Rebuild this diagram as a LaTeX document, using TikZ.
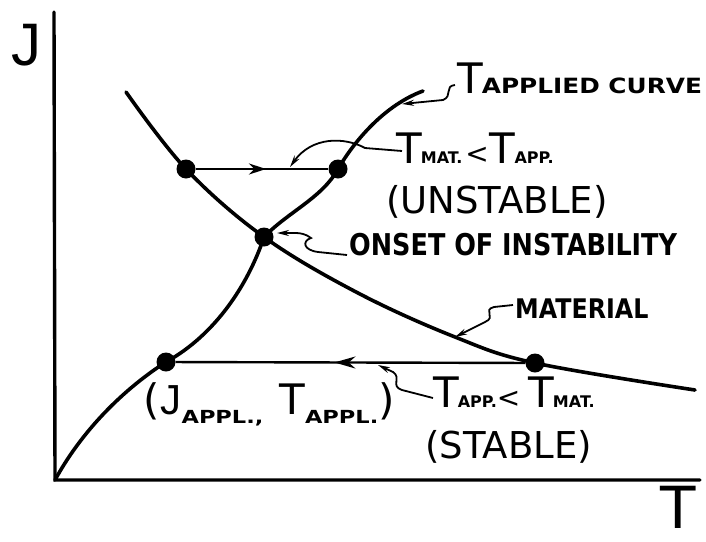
\documentclass[tikz,border=0pt]{standalone}
\usepackage{fontspec}
\setmainfont{DejaVu Sans}
\newfontfamily\jfont{Liberation Sans}
\usetikzlibrary{arrows.meta,decorations.markings}
\newcommand{\BigT}{{\fontsize{42}{42}\selectfont T}}
\newcommand{\SubB}[2][16]{{\fontsize{#1}{#1}\selectfont\bfseries #2}}
\newcommand{\LessS}{{\fontsize{28}{28}\selectfont <}}
\begin{document}
\begin{tikzpicture}[x=1pt,y=-1pt,
  curve/.style={line width=3.6pt, line cap=round, line join=round},
  axis/.style={line width=3.4pt, line cap=round, line join=miter},
  hline/.style={line width=2.4pt},
  ptr/.style={line width=1.8pt, -{Stealth[length=12pt,width=6pt]}},
  dot/.style={circle, fill=black, inner sep=0pt, minimum size=19pt},
  lbl/.style={inner sep=0pt, anchor=base west}]
\useasboundingbox (0,0) rectangle (706,541);

% axes
\coordinate (O) at (55,480);
\coordinate (ytop) at (54,12);
\coordinate (xend) at (700,480);
\draw[axis] (ytop) -- (O) -- (xend);
\node[inner sep=0pt, anchor=base] (Jlab) at (27,65) {\fontsize{60}{60}\selectfont\jfont J};
\node[inner sep=0pt, anchor=base] (Tlab) at (678,528) {\fontsize{58}{58}\selectfont T};

% dots
\node[dot] (d1) at (186,169) {};
\node[dot] (d2) at (338,169) {};
\node[dot] (d3) at (264,237) {};
\node[dot] (d4) at (166,362) {};
\node[dot] (d5) at (535,363) {};

% material curve
\coordinate (m0) at (126,92);
\coordinate (m1) at (358,293);
\coordinate (m2) at (455,337);
\coordinate (m3) at (695,390);
\draw[curve] plot[smooth, tension=0.6] coordinates {(m0) (d1) (d3) (m1) (m2) (d5) (m3)};

% applied curve
\coordinate (a9) at (423,91);
\draw[curve] (O.center) .. controls (85,425) and (130,385) .. (d4.center)
  .. controls (215,335) and (248,285) .. (d3.center)
  .. controls (288,212) and (322,198) .. (d2.center)
  .. controls (355,140) and (385,105) .. (a9);

% horizontal paths
\draw[hline, postaction={decorate}, decoration={markings, mark=at position 0.53 with {\arrow{Stealth[length=17pt,width=11pt]}}}] (d1) -- (d2);
\draw[hline, postaction={decorate}, decoration={markings, mark=at position 0.546 with {\arrow{Stealth[length=21pt,width=12pt]}}}] (d5) -- (d4);

% labels
\node[lbl] (lapp) at (457,93) {\BigT\kern-1pt\SubB[21]{\scalebox{1.18}[1]{APPLIED CURVE}}};
\node[lbl] (lmat) at (396,163) {\BigT\kern-1pt\SubB{MAT.}\kern3pt\LessS\kern1pt\BigT\kern-1pt\SubB{APP.}};
\node[lbl] (lunst) at (386,213) {\fontsize{37}{37}\selectfont (UNSTABLE)};
\node[lbl] (lonset) at (349,255) {\SubB[30]{\scalebox{0.85}[1]{ONSET OF INSTABILITY}}};
\node[lbl] (lmatl) at (515,318) {\SubB[27]{\scalebox{0.88}[1]{MATERIAL}}};
\node[lbl] (lapp2) at (433,407) {\BigT\kern-1pt\SubB{APP.}\LessS\kern8pt\BigT\kern-1pt\SubB{MAT.}};
\node[lbl] (lstab) at (425,458) {\fontsize{37}{37}\selectfont (STABLE)};
\node[lbl] (ljt) at (143,414) {\fontsize{42}{42}\selectfont (\kern1pt{\jfont J}\raisebox{-9pt}{\SubB[18]{\scalebox{1.25}[1]{APPL.,}}}\kern16pt T\raisebox{-9pt}{\SubB[18]{\scalebox{1.25}[1]{APPL.}}})};

% pointers
\coordinate (p1s) at (455,85);
\coordinate (p1t) at (402,104);
\draw[ptr] (p1s) .. controls (444,86) and (453,96) .. (443,100) -- (p1t);
\coordinate (p2s) at (402,151);
\coordinate (p2t) at (290,167);
\draw[ptr] (p2s) -- (365,148) .. controls (345,137) and (312,136) .. (p2t);
\coordinate (p3s) at (347,255);
\coordinate (p3t) at (277,233);
\draw[ptr] (p3s) -- (318,252) .. controls (303,250) and (302,241) .. (311,238) .. controls (306,234) and (300,233) .. (296,233) -- (p3t);
\coordinate (p4s) at (513,305);
\coordinate (p4t) at (455,337);
\draw[ptr] (p4s) -- (494,307) .. controls (482,310) and (497,317) .. (485,322) -- (p4t);
\coordinate (p5s) at (433,398);
\coordinate (p5t) at (378,365);
\draw[ptr] (p5s) -- (402,390) .. controls (390,386) and (402,378) .. (393,372) -- (p5t);
\end{tikzpicture}
\end{document}
